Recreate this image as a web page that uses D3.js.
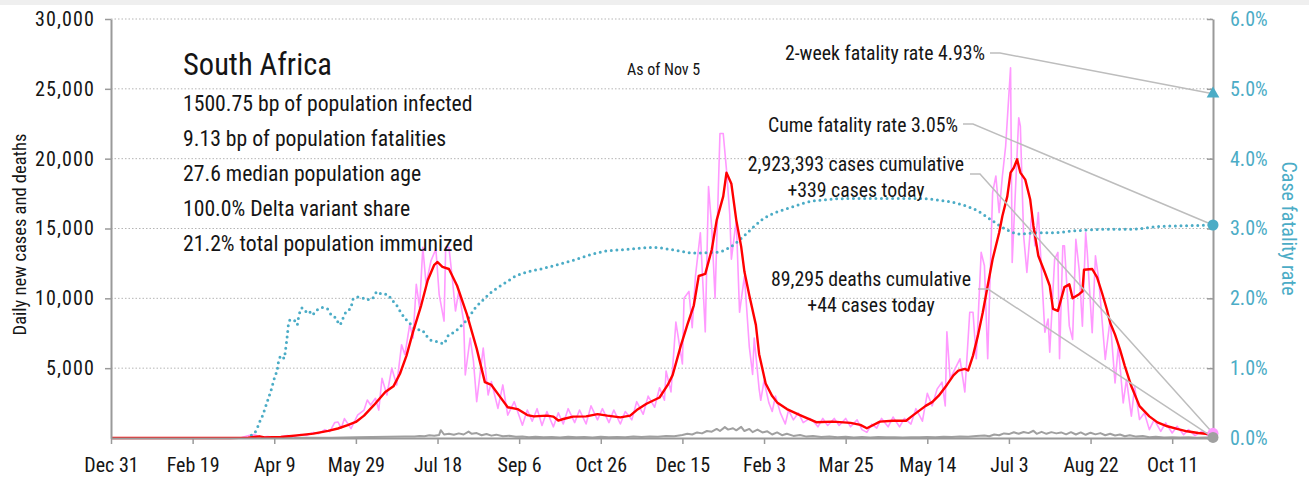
<!DOCTYPE html>
<html>
<head>
<meta charset="utf-8">
<script src="https://cdn.jsdelivr.net/npm/d3@7"></script>
<style>
  html, body { margin: 0; padding: 0; background: #fff; }
  svg { display: block; }
  text { font-family: 'Roboto Condensed', Roboto, sans-serif; font-stretch: condensed; fill: #151515; }
</style>
</head>
<body>
<svg id="chart" width="1309" height="482"></svg>
<script>
// Days are counted from Dec 31, 2019.
const startDate = new Date(2019, 11, 31);
const lastDay = 675; // Nov 5, 2021

// Daily new cases as reported: [day, cases]
const dailyCases = [[0,0],[65,0],[75,10],[80,40],[85,200],[88,240],[92,60],[96,100],[100,50],[104,90],[108,180],[112,100],[116,250],[120,190],[124,400],[127,300],[131,600],[134,450],[137,1100],[139,1150],[141,700],[143,1390],[147,670],[151,1630],[155,2000],[157,2720],[159,2360],[162,2840],[164,2000],[166,4280],[169,3080],[172,5000],[175,3800],[178,6680],[180,5960],[183,8130],[185,7160],[187,11000],[189,9330],[191,13650],[193,11000],[196,12690],[199,13530],[201,10290],[204,8370],[205,13650],[207,13650],[209,11490],[211,9090],[213,10530],[216,8370],[217,4520],[220,7160],[222,5500],[224,2600],[228,6440],[231,3080],[233,4040],[237,2120],[240,3800],[243,1630],[247,2600],[252,910],[255,2000],[258,1200],[261,2100],[264,900],[267,1900],[271,800],[274,1800],[277,1000],[280,2100],[284,1100],[287,2000],[291,1000],[294,2300],[298,1300],[301,2100],[305,1100],[308,2000],[312,1000],[315,1900],[319,1300],[322,2600],[326,1700],[329,3000],[333,2200],[336,3600],[339,2700],[340,4800],[343,3300],[346,8300],[350,5300],[351,10000],[354,10500],[356,7900],[358,11600],[361,14700],[364,7600],[366,18000],[368,15000],[370,10000],[373,21800],[375,21800],[377,19200],[379,16000],[380,12800],[383,15600],[385,9000],[388,11600],[391,6500],[393,4550],[394,7150],[397,3500],[398,2700],[400,4100],[403,2500],[405,1900],[407,3000],[410,1800],[413,1000],[415,2000],[418,1300],[421,1800],[424,1100],[428,1400],[431,1100],[433,800],[436,1400],[439,900],[443,1400],[446,900],[450,1400],[453,800],[457,1300],[460,600],[463,400],[466,1000],[469,700],[472,1400],[476,800],[479,1500],[483,800],[486,1400],[490,1000],[493,2100],[497,1200],[500,3200],[503,2300],[506,3500],[509,4000],[511,2300],[512,7600],[514,4240],[517,4950],[520,5670],[523,3290],[526,9000],[528,9000],[530,5670],[533,13290],[535,12330],[537,5670],[540,17570],[542,18760],[544,16140],[546,18760],[548,20900],[551,26500],[552,12570],[556,22930],[557,22330],[559,14480],[561,11860],[564,16140],[566,13760],[568,16140],[572,7570],[574,8520],[575,6140],[578,12810],[580,13290],[581,5670],[583,13760],[584,13760],[587,8010],[589,7060],[591,14230],[593,12080],[595,8010],[597,14710],[598,13280],[601,7540],[603,13040],[605,11360],[609,5620],[612,8490],[615,3950],[617,6580],[620,2510],[622,4190],[625,1560],[627,3710],[630,1320],[633,1790],[636,600],[639,1320],[643,480],[646,1080],[650,360],[653,840],[657,240],[660,600],[664,170],[668,480],[672,170],[675,339]];

// Seven-day average of new cases: [day, cases]
const avgCases = [[0,0],[73,0],[84,30],[91,120],[94,40],[104,70],[114,190],[124,310],[133,510],[139,680],[145,920],[150,1150],[155,1600],[161,2350],[168,3300],[173,3700],[177,4600],[181,5900],[185,7600],[190,9500],[194,11300],[198,12400],[200,12600],[203,12250],[207,12100],[212,10900],[218,8850],[224,6400],[229,4000],[233,3800],[238,3000],[243,2200],[249,2070],[255,1640],[259,1550],[267,1600],[271,1530],[274,1250],[277,1360],[283,1530],[291,1550],[298,1710],[304,1600],[312,1480],[318,1600],[322,2000],[328,2450],[336,2900],[341,3800],[344,4500],[349,6600],[353,8100],[357,9500],[360,11600],[364,11750],[368,13500],[371,15600],[375,17300],[377,19000],[380,18200],[383,15600],[386,13700],[388,11900],[391,10200],[395,8100],[397,6000],[401,3900],[405,3000],[408,2550],[414,2070],[422,1640],[432,1130],[442,1170],[453,1080],[459,940],[463,700],[471,1170],[479,1240],[487,1240],[491,1600],[499,2300],[503,2570],[507,3030],[512,3800],[516,4480],[519,4830],[523,4950],[525,4830],[528,5900],[531,7330],[534,9000],[537,10900],[540,12800],[544,14700],[546,15900],[549,17300],[551,19000],[553,19350],[555,19950],[557,19000],[560,18500],[563,17100],[565,15200],[568,13050],[572,11850],[575,10900],[577,9250],[580,9100],[584,10800],[587,11000],[589,10000],[593,10300],[595,10500],[596,12050],[601,12100],[604,11500],[607,10400],[610,9200],[612,8250],[615,7400],[618,6350],[621,5150],[625,3700],[630,2280],[636,1550],[641,1120],[647,840],[653,650],[659,480],[666,360],[672,290],[675,250]];

// Daily new deaths: [day, deaths]
const dailyDeaths = [[0,0],[85,0],[100,5],[120,10],[135,20],[150,50],[160,70],[170,90],[180,110],[186,100],[189,150],[192,120],[195,190],[198,160],[201,220],[202,560],[204,250],[207,300],[210,230],[213,330],[216,250],[219,460],[221,300],[224,350],[227,200],[230,290],[233,170],[236,240],[240,120],[244,160],[248,90],[252,100],[256,60],[260,90],[265,50],[270,80],[275,40],[280,90],[285,50],[290,80],[295,40],[300,90],[305,60],[310,80],[315,50],[320,100],[325,70],[330,110],[335,90],[340,150],[345,130],[350,220],[353,300],[356,250],[359,400],[362,330],[365,500],[368,450],[371,650],[373,500],[376,780],[378,600],[381,700],[383,550],[386,800],[388,500],[391,650],[393,420],[396,600],[399,400],[402,480],[405,250],[408,400],[411,200],[414,300],[418,150],[422,220],[426,100],[430,150],[435,80],[440,110],[445,60],[450,90],[455,40],[460,70],[465,40],[470,70],[475,50],[480,60],[485,40],[490,60],[495,50],[500,80],[505,60],[510,90],[515,70],[520,110],[525,90],[530,140],[535,180],[538,130],[541,250],[544,200],[547,330],[550,280],[553,410],[556,300],[559,430],[562,350],[565,520],[567,300],[570,440],[573,300],[576,420],[579,330],[582,400],[585,260],[588,420],[591,250],[594,400],[597,230],[600,380],[603,260],[606,350],[609,200],[612,300],[615,180],[618,250],[621,130],[624,200],[628,100],[632,150],[636,60],[640,90],[645,40],[650,60],[655,30],[660,50],[665,20],[670,40],[675,44]];

// Cumulative case fatality rate, percent: [day, rate]
const fatalityRate = [[86,0.04],[89,0.11],[91,0.23],[93,0.33],[94,0.40],[96,0.54],[98,0.68],[100,0.85],[102,1.0],[103,1.14],[105,1.18],[106,1.14],[107,1.28],[108,1.47],[109,1.67],[110,1.69],[112,1.69],[114,1.62],[115,1.74],[117,1.86],[119,1.81],[121,1.83],[123,1.76],[126,1.83],[129,1.87],[132,1.86],[135,1.76],[138,1.71],[140,1.62],[142,1.71],[144,1.81],[147,1.86],[148,1.98],[151,2.02],[154,2.0],[156,2.01],[158,1.98],[161,2.02],[163,2.10],[166,2.06],[169,2.06],[172,1.98],[175,1.90],[178,1.78],[181,1.69],[184,1.62],[187,1.55],[190,1.55],[193,1.47],[196,1.40],[200,1.38],[204,1.35],[206,1.45],[209,1.50],[212,1.55],[215,1.62],[218,1.69],[223,1.86],[228,1.98],[232,2.07],[236,2.14],[242,2.23],[248,2.32],[254,2.37],[265,2.43],[275,2.49],[285,2.56],[293,2.62],[304,2.68],[316,2.70],[332,2.73],[343,2.70],[357,2.65],[371,2.66],[379,2.73],[388,2.90],[399,3.13],[416,3.30],[432,3.40],[454,3.43],[476,3.43],[493,3.43],[509,3.40],[520,3.35],[531,3.25],[540,3.11],[548,2.99],[557,2.92],[567,2.94],[576,2.94],[592,2.97],[609,2.99],[625,2.99],[642,3.03],[658,3.04],[675,3.05]];

// Axis ticks
const xTickDays = [0, 50, 100, 150, 200, 250, 300, 350, 400, 450, 500, 550, 600, 650];
const leftTicks = [5000, 10000, 15000, 20000, 25000, 30000];
const rightTicks = [0, 1, 2, 3, 4, 5, 6];

// Summary panel
const countryName = "South Africa";
const summaryLines = [
  "1500.75 bp of population infected",
  "9.13 bp of population fatalities",
  "27.6 median population age",
  "100.0% Delta variant share",
  "21.2% total population immunized"
];
const asOfLabel = "As of Nov 5";

// Latest values
const twoWeekRate = 4.93;
const cumeRate = 3.05;
const totalCases = 2923393;
const casesToday = 339;
const totalDeaths = 89295;
const deathsToday = 44;

const TEAL = "#4bacc6", PINK = "#ff99ff", RED = "#ff0000", GREY = "#a0a0a0", LEADER = "#bdbdbd";

const svg = d3.select("#chart");
const W = 1309, H = 482;
const plot = { left: 111, right: 1213, top: 19, bottom: 438 };

const dayDate = d => d3.timeDay.offset(startDate, d);

const x = d3.scaleTime().domain([startDate, dayDate(lastDay)]).range([plot.left, plot.right]);
const yL = d3.scaleLinear().domain([0, 30000]).range([plot.bottom, plot.top]);
const yR = d3.scaleLinear().domain([0, 6]).range([plot.bottom, plot.top]);

// thin band along the top edge
svg.append("rect").attr("x", 0).attr("y", 0).attr("width", W).attr("height", 5).attr("fill", "#efefef");

// horizontal gridlines
svg.append("g").selectAll("line").data(leftTicks).join("line")
  .attr("x1", plot.left).attr("x2", plot.right)
  .attr("y1", d => yL(d)).attr("y2", d => yL(d))
  .attr("stroke", "#b5b5b5").attr("stroke-width", 1).attr("stroke-dasharray", "1.5,2");

// series
const lineL = d3.line().x(d => x(dayDate(d[0]))).y(d => yL(d[1]));
const lineR = d3.line().x(d => x(dayDate(d[0]))).y(d => yR(d[1])).curve(d3.curveMonotoneX);

svg.append("path").datum(dailyDeaths).attr("d", lineL)
  .attr("fill", "none").attr("stroke", GREY).attr("stroke-width", 2).attr("stroke-linejoin", "round");
svg.append("path").datum(dailyCases).attr("d", lineL)
  .attr("fill", "none").attr("stroke", PINK).attr("stroke-width", 1.6).attr("stroke-linejoin", "round");
svg.append("path").datum(fatalityRate).attr("d", lineR)
  .attr("fill", "none").attr("stroke", TEAL).attr("stroke-width", 3)
  .attr("stroke-linecap", "round").attr("stroke-dasharray", "0,5.6");
svg.append("path").datum(avgCases).attr("d", lineL)
  .attr("fill", "none").attr("stroke", RED).attr("stroke-width", 2.4).attr("stroke-linejoin", "round");

// axes
const axisStyle = g => {
  g.select(".domain").attr("stroke", "#9a9a9a").attr("stroke-width", 2);
  g.selectAll(".tick line").attr("stroke", "#9a9a9a").attr("stroke-width", 1.5);
  g.selectAll("text").attr("font-family", null).style("font-size", "20px");
};

svg.append("g").attr("transform", `translate(0,${plot.bottom})`)
  .call(d3.axisBottom(x).tickValues(xTickDays.map(dayDate)).tickFormat(d3.timeFormat("%b %-d"))
    .tickSize(6).tickSizeOuter(0).tickPadding(14))
  .call(axisStyle)
  .call(g => g.selectAll("text").attr("fill", "#151515"));

svg.append("g").attr("transform", `translate(${plot.left},0)`)
  .call(d3.axisLeft(yL).tickValues(leftTicks).tickFormat(d3.format(",")).tickSize(6).tickSizeOuter(0).tickPadding(10))
  .call(axisStyle)
  .call(g => g.selectAll("text").attr("fill", "#151515").style("letter-spacing", "1.1px"));

svg.append("g").attr("transform", `translate(${plot.right},0)`)
  .call(d3.axisRight(yR).tickValues(rightTicks).tickFormat(d => d.toFixed(1) + "%").tickSize(-6).tickSizeOuter(0).tickPadding(17))
  .call(axisStyle)
  .call(g => g.selectAll("text").attr("fill", TEAL).style("fill", TEAL));

// axis titles
svg.append("text").attr("transform", `translate(26,${(plot.top + plot.bottom) / 2 + 6}) rotate(-90)`)
  .attr("text-anchor", "middle").style("font-size", "18.5px").text("Daily new cases and deaths");
svg.append("text").attr("transform", `translate(1282,${(plot.top + plot.bottom) / 2}) rotate(90)`)
  .attr("text-anchor", "middle").style("font-size", "20px").style("fill", TEAL).text("Case fatality rate");

// summary panel
svg.append("text").attr("x", 183).attr("y", 75).style("font-size", "30.5px").text(countryName);
svg.append("g").selectAll("text").data(summaryLines).join("text")
  .attr("x", 183).attr("y", (d, i) => 111 + i * 35)
  .style("font-size", "21.7px").text(d => d);
svg.append("text").attr("x", 627).attr("y", 75).style("font-size", "16px").text(asOfLabel);

// callouts for the latest values
const endX = x(dayDate(lastDay));
const fmt = d3.format(",");
const callouts = [
  { lines: [`2-week fatality rate ${twoWeekRate.toFixed(2)}%`], anchor: "end", tx: 985, ty: 60, lx: 990, ly: 53, px: endX, py: yR(twoWeekRate) },
  { lines: [`Cume fatality rate ${cumeRate.toFixed(2)}%`], anchor: "end", tx: 958, ty: 132, lx: 963, ly: 124, px: endX, py: yR(cumeRate) },
  { lines: [`${fmt(totalCases)} cases cumulative`, `+${fmt(casesToday)} cases today`], anchor: "middle", tx: 856, ty: 171, lx: 970, ly: 174, px: endX, py: yL(casesToday) },
  { lines: [`${fmt(totalDeaths)} deaths cumulative`, `+${fmt(deathsToday)} cases today`], anchor: "middle", tx: 871, ty: 286, lx: 978, ly: 289, px: endX, py: yL(deathsToday) }
];

const cg = svg.append("g");
callouts.forEach(c => {
  cg.append("polyline")
    .attr("points", `${c.lx},${c.ly} ${c.lx + 10},${c.ly} ${c.px},${c.py}`)
    .attr("fill", "none").attr("stroke", LEADER).attr("stroke-width", 1.5);
  c.lines.forEach((t, i) => {
    cg.append("text").attr("x", c.tx).attr("y", c.ty + i * 26)
      .attr("text-anchor", c.anchor).style("font-size", "19.8px").text(t);
  });
});

// end-point markers
svg.append("path").attr("d", d3.symbol(d3.symbolTriangle, 70)())
  .attr("transform", `translate(${endX},${yR(twoWeekRate)})`).attr("fill", TEAL);
svg.append("circle").attr("cx", endX).attr("cy", yR(cumeRate)).attr("r", 5.5).attr("fill", TEAL);
svg.append("circle").attr("cx", endX).attr("cy", yL(casesToday)).attr("r", 5.5).attr("fill", PINK);
svg.append("circle").attr("cx", endX).attr("cy", yL(deathsToday)).attr("r", 5.5).attr("fill", GREY);
</script>
</body>
</html>
